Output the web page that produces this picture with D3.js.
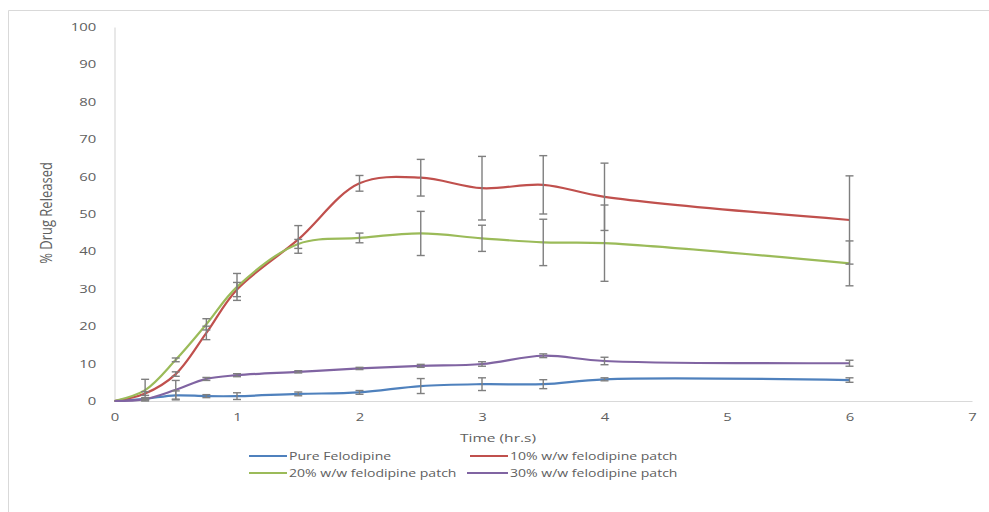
<!DOCTYPE html>
<html><head><meta charset="utf-8">
<script src="https://cdn.jsdelivr.net/npm/d3@7"></script>
<style>body{margin:0;background:#fff}svg{display:block}</style></head>
<body><svg id="c" width="989" height="512"></svg>
<script>
const times = [0, 0.25, 0.5, 0.75, 1, 1.5, 2, 2.5, 3, 3.5, 4, 6];
const pureFelodipine = [0, 0.6, 1.5, 1.3, 1.3, 1.9, 2.3, 4.0, 4.5, 4.5, 5.8, 5.6];
const pureErr        = [0, 0.3, 1.2, 0.4, 0.9, 0.5, 0.5, 2.0, 1.7, 1.2, 0.4, 0.6];
const patch10        = [0, 2.0, 7.2, 18.2, 29.8, 43.2, 58.2, 59.7, 56.9, 57.8, 54.6, 48.4];
const patch10Err     = [0, 0.5, 0.6, 1.8, 1.9, 3.7, 2.1, 4.9, 8.5, 7.8, 9.0, 11.8];
const patch20        = [0, 2.9, 11.0, 20.5, 30.5, 42.0, 43.6, 44.8, 43.5, 42.4, 42.2, 36.8];
const patch20Err     = [0, 2.9, 0.5, 1.5, 3.6, 1.2, 1.3, 5.9, 3.5, 6.2, 10.2, 6.0];
const patch30        = [0, 0.5, 3.0, 5.9, 6.9, 7.8, 8.7, 9.4, 9.9, 12.1, 10.7, 10.1];
const patch30Err     = [0, 0.2, 2.5, 0.4, 0.4, 0.3, 0.3, 0.4, 0.6, 0.5, 1.0, 0.8];
const seriesNames = ["Pure Felodipine", "10% w/w felodipine patch", "20% w/w felodipine patch", "30% w/w felodipine patch"];
const seriesColors = ["#4f81bd", "#c0504d", "#9bbb59", "#8064a2"];
const xTicks = [0, 1, 2, 3, 4, 5, 6, 7];
const yTicks = [0, 10, 20, 30, 40, 50, 60, 70, 80, 90, 100];
const xTitle = "Time (hr.s)";
const yTitle = "% Drug Released";

const series = [
  {name: seriesNames[0], color: seriesColors[0], vals: pureFelodipine, err: pureErr},
  {name: seriesNames[1], color: seriesColors[1], vals: patch10, err: patch10Err},
  {name: seriesNames[2], color: seriesColors[2], vals: patch20, err: patch20Err},
  {name: seriesNames[3], color: seriesColors[3], vals: patch30, err: patch30Err}
];

const svg = d3.select("#c");
const FONT = "'Open Sans', sans-serif";
const SX = 1.35;
const textGray = "#606060";
const axisGray = "#d9d9d9";

// chart area border
svg.append("path").attr("d", "M8.5,512V10.5H989").attr("fill", "none").attr("stroke", axisGray).attr("stroke-width", 1);

const x = d3.scaleLinear().domain([0, 7]).range([114.5, 972]);
const y = d3.scaleLinear().domain([0, 100]).range([401, 27]);

// axes
const gy = svg.append("g").attr("transform", `translate(${x(0)},0)`)
  .call(d3.axisLeft(y).tickValues(yTicks).tickFormat(d3.format("d")).tickSize(0).tickSizeOuter(0).tickPadding(13.5));
const gx = svg.append("g").attr("transform", `translate(0,${y(0)})`)
  .call(d3.axisBottom(x).tickValues(xTicks).tickFormat(d3.format("d")).tickSize(0).tickSizeOuter(0).tickPadding(12));
[gy, gx].forEach(g => {
  g.select(".domain").attr("stroke", axisGray).attr("stroke-width", 1.2);
  g.selectAll("text").attr("fill", textGray).attr("font-family", FONT).attr("font-size", 11)
    .attr("transform", `scale(${SX},1)`);
});
gx.selectAll(".tick text").attr("x", 0);

// axis titles
svg.append("text").attr("transform", `translate(498,442) scale(${SX},1)`)
  .attr("text-anchor", "middle").attr("font-family", FONT).attr("font-size", 11.5)
  .attr("fill", textGray).text(xTitle);
svg.append("text").attr("transform", `translate(52,213) rotate(-90) scale(1,1.2)`)
  .attr("text-anchor", "middle").attr("font-family", FONT).attr("font-size", 13)
  .attr("fill", textGray).text(yTitle);

// lines
const line = d3.line().x(d => x(d[0])).y(d => y(d[1])).curve(d3.curveCatmullRom.alpha(0.5));
series.forEach(s => {
  svg.append("path").datum(times.map((t, i) => [t, s.vals[i]]))
    .attr("d", line).attr("fill", "none").attr("stroke", s.color).attr("stroke-width", 2.2);
});

// error bars
const eb = svg.append("g").attr("stroke", "#7f7f7f").attr("stroke-width", 1.4);
series.forEach(s => {
  times.forEach((t, i) => {
    const e = s.err[i];
    if (!e) return;
    const cx = x(t), y1 = y(s.vals[i] + e), y2 = y(s.vals[i] - e);
    eb.append("line").attr("x1", cx).attr("x2", cx).attr("y1", y1).attr("y2", y2);
    eb.append("line").attr("x1", cx - 4).attr("x2", cx + 4).attr("y1", y1).attr("y2", y1);
    eb.append("line").attr("x1", cx - 4).attr("x2", cx + 4).attr("y1", y2).attr("y2", y2);
  });
});

// legend
const legendPos = [[249, 456, 287], [470, 456, 508], [249, 473, 287], [467, 473, 508]];
series.forEach((s, i) => {
  const [lx, ly, lx2] = legendPos[i];
  svg.append("line").attr("x1", lx).attr("x2", lx2).attr("y1", ly).attr("y2", ly)
    .attr("stroke", s.color).attr("stroke-width", 2.2);
  svg.append("text").attr("transform", `translate(${lx2 + 2},${ly + 4}) scale(1.3,1)`)
    .attr("font-family", FONT).attr("font-size", 10.8).attr("fill", textGray).text(s.name);
});
</script></body></html>
